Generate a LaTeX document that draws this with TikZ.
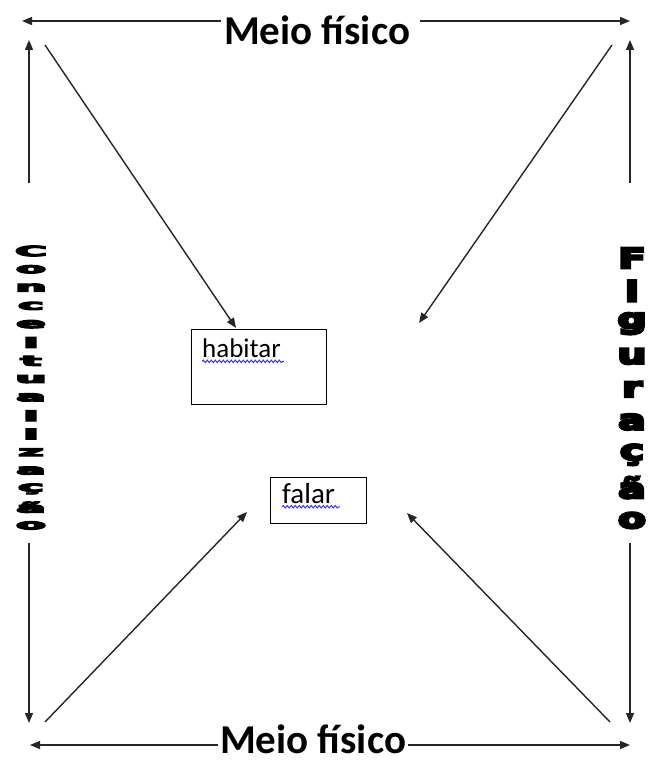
\documentclass[tikz,border=0pt]{standalone}
\usepackage{fontspec}
\usepackage{graphicx}
\setmainfont{Carlito}
\newfontfamily\heavyfont[FakeBold=8]{DejaVu Sans Bold}
\usetikzlibrary{arrows.meta,decorations.pathmorphing}
\begin{document}
\begin{tikzpicture}[x=1pt,y=-1pt,
  arr/.style={-{Triangle[length=10pt,width=8pt]},line width=1.4pt,black!85},
  title/.style={font=\fontsize{41}{42}\selectfont\bfseries,inner sep=0pt},
  wordbox/.style={draw,line width=1.3pt,anchor=north west},
  squig/.style={draw=blue!80,line width=1pt,decorate,decoration={snake,amplitude=1.2pt,segment length=4pt}},
  rletter/.style={font=\heavyfont\fontsize{28}{28}\selectfont,inner sep=0pt},
  lletter/.style={font=\heavyfont\fontsize{28}{28}\selectfont,inner sep=0pt}]
\useasboundingbox (0,0) rectangle (656,760);
\fill[white] (0,0) rectangle (656,760);
% titles
\node[title] (top) at (317,30) {Meio físico};
\node[title] (bot) at (313,739) {Meio físico};
% corner coordinates
\coordinate (tl) at (22,21);
\coordinate (tr) at (630,21);
\coordinate (bl) at (30,745);
\coordinate (br) at (630,745);
\draw[arr] (top.west |- 0,21) ++(-3,0) -- (tl);
\draw[arr] (top.east |- 0,21) ++(10,0) -- (tr);
\draw[arr] (bot.west |- 0,745) ++(-2,0) -- (bl);
\draw[arr] (bot.east |- 0,745) ++(2,0) -- (br);
% vertical arrows
\coordinate (lv1) at (29,183); \coordinate (lv1t) at (29,40);
\coordinate (lv2) at (29,543); \coordinate (lv2t) at (29,723);
\coordinate (rv1) at (630,183); \coordinate (rv1t) at (630,40);
\coordinate (rv2) at (630,543); \coordinate (rv2t) at (630,723);
\draw[arr] (lv1) -- (lv1t);
\draw[arr] (lv2) -- (lv2t);
\draw[arr] (rv1) -- (rv1t);
\draw[arr] (rv2) -- (rv2t);
% boxes
\node[wordbox,minimum width=135pt,minimum height=75pt] (hab) at (191,329) {};
\node[anchor=north west,font=\fontsize{27}{30}\selectfont,inner sep=0pt] (habt) at (202,339) {habitar};
\draw[squig] (habt.south west) ++(0,3) -- ++(82,0);
\node[wordbox,minimum width=96pt,minimum height=46pt] (fal) at (270,477) {};
\node[anchor=north west,font=\fontsize{29}{30}\selectfont,inner sep=0pt] (falt) at (282,483) {falar};
\draw[squig] (falt.south west) ++(0,3) -- ++(58,0);
% diagonal arrows
\coordinate (d1) at (45,45); \coordinate (d1t) at (236,328);
\coordinate (d2) at (612,45); \coordinate (d2t) at (419,323);
\coordinate (d3) at (45,722); \coordinate (d3t) at (247,512);
\coordinate (d4) at (610,722); \coordinate (d4t) at (407,513);
\draw[arr] (d1) -- (d1t);
\draw[arr] (d2) -- (d2t);
\draw[arr] (d3) -- (d3t);
\draw[arr] (d4) -- (d4t);
% right vertical text
\foreach \ch [count=\i from 0] in {F,i,g,u,r,a,ç,ã,o}
  \node[rletter] (r\i) at (632,{258+32.8*\i}) {\scalebox{1.45}[1]{\ch}};
% left vertical text
\foreach \ch [count=\i from 0] in {C,o,n,c,e,i,t,u,a,l,i,z,a,ç,ã,o}
  \node[lletter] (l\i) at (31,{251+18.3*\i}) {\scalebox{1.55}[0.5]{\ch}};
\end{tikzpicture}
\end{document}
